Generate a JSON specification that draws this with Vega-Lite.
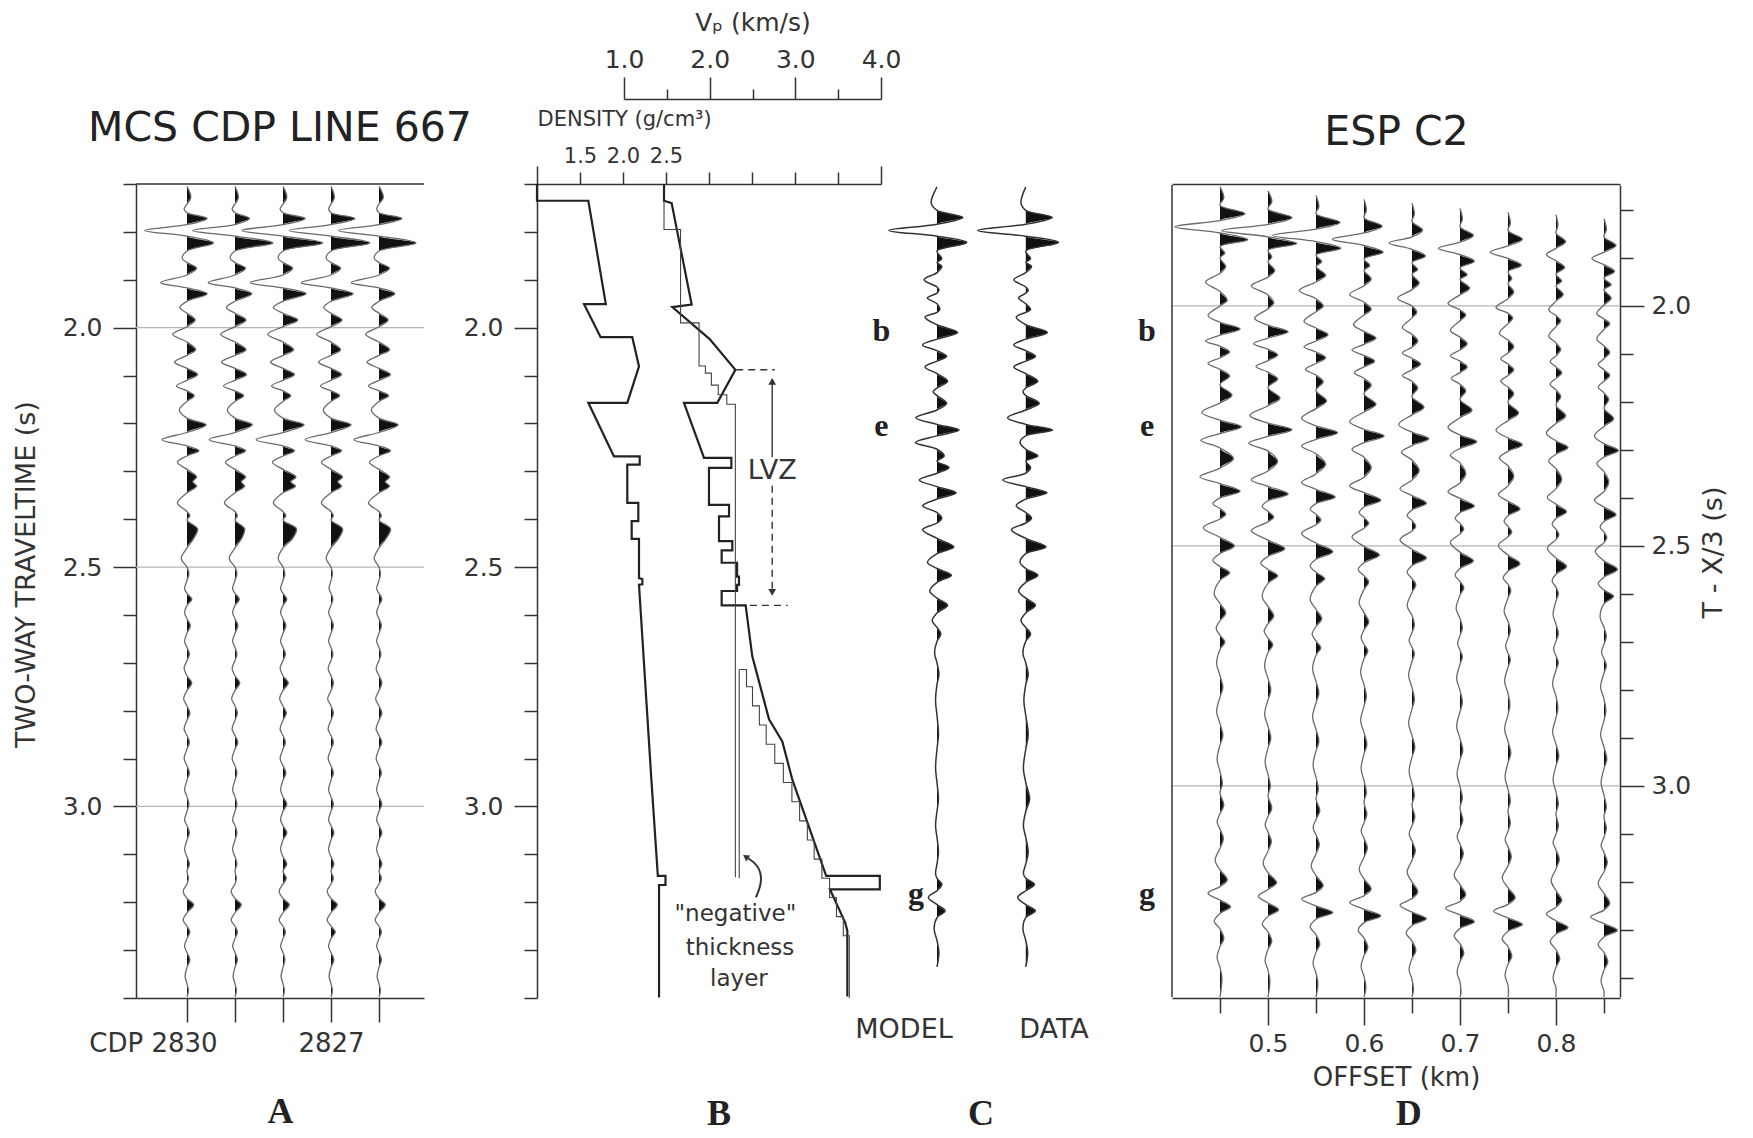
{
"$schema":"https://vega.github.io/schema/vega-lite/v6.json",
"background":"white",
"padding":{"left":12,"top":10,"right":5,"bottom":2},
"bounds":"flush",
"spacing":113,
"config":{
 "view":{"stroke":null},
 "font":"DejaVu Sans",
 "axis":{"grid":false,"domainColor":"#333","domainWidth":1.5,"tickColor":"#333","tickWidth":1.5,"labelColor":"#333","titleColor":"#333","labelFont":"DejaVu Sans","titleFont":"DejaVu Sans","titleFontWeight":"normal","labelFontSize":25,"titleFontSize":26,"labelOverlap":false,"labelFlush":false,"labelBound":false},
 "title":{"font":"DejaVu Sans","fontWeight":"normal","color":"#222"}
},
"datasets":{
"doff":[{"n":1,"k":0.45},{"n":2,"k":0.5},{"n":3,"k":0.55},{"n":4,"k":0.6},{"n":5,"k":0.65},{"n":6,"k":0.7},{"n":7,"k":0.75},{"n":8,"k":0.8},{"n":9,"k":0.85}],
"A":[
{"t":1.705,"a":[0,0,0,0,0]},{"t":1.728,"a":[0.08,0.07,0.08,0.07,0.09]},{"t":1.742,"a":[0,0,0,0,0]},{"t":1.752,"a":[-0.06,-0.06,-0.06,-0.05,-0.05]},{"t":1.76,"a":[0,0,0,0,0]},
{"t":1.772,"a":[0.42,0.3,0.46,0.5,0.48]},{"t":1.785,"a":[0,0,0,0,0]},{"t":1.797,"a":[-0.88,-0.88,-0.86,-0.86,-0.84]},{"t":1.809,"a":[0,0,0,0,0]},{"t":1.823,"a":[0.55,0.79,0.83,0.81,0.77]},
{"t":1.84,"a":[0,0,0,0,0]},{"t":1.855,"a":[-0.1,-0.1,-0.1,-0.1,-0.1]},{"t":1.864,"a":[0,0,0,0,0]},{"t":1.876,"a":[0.2,0.22,0.2,0.2,0.22]},{"t":1.89,"a":[0,0,0,0,0]},
{"t":1.906,"a":[-0.55,-0.56,-0.68,-0.62,-0.58]},{"t":1.917,"a":[0,0,0,0,0]},{"t":1.929,"a":[0.42,0.35,0.48,0.46,0.33]},{"t":1.945,"a":[0,0,0,0,0]},{"t":1.958,"a":[-0.15,-0.18,-0.2,-0.15,-0.15]},
{"t":1.97,"a":[0,0,0,0,0]},{"t":1.984,"a":[0.17,0.23,0.31,0.23,0.19]},{"t":1.998,"a":[0,0,0,0,0]},{"t":2.014,"a":[-0.3,-0.3,-0.32,-0.3,-0.28]},{"t":2.03,"a":[0,0,0,0,0]},
{"t":2.046,"a":[0.18,0.23,0.22,0.2,0.22]},{"t":2.058,"a":[0,0,0,0,0]},{"t":2.072,"a":[-0.26,-0.28,-0.26,-0.26,-0.25]},{"t":2.085,"a":[0,0,0,0,0]},{"t":2.098,"a":[0.22,0.24,0.24,0.22,0.24]},
{"t":2.11,"a":[0,0,0,0,0]},{"t":2.122,"a":[-0.22,-0.24,-0.24,-0.22,-0.22]},{"t":2.132,"a":[0,0,0,0,0]},{"t":2.142,"a":[0.15,0.18,0.16,0.18,0.2]},{"t":2.154,"a":[0,0,0,0,0]},
{"t":2.172,"a":[-0.16,-0.16,-0.18,-0.16,-0.16]},{"t":2.189,"a":[0,0,0,0,0]},{"t":2.203,"a":[0.4,0.36,0.44,0.42,0.4]},{"t":2.219,"a":[0,0,0,0,0]},{"t":2.234,"a":[-0.52,-0.54,-0.56,-0.54,-0.52]},
{"t":2.247,"a":[0,0,0,0,0]},{"t":2.257,"a":[0.25,0.22,0.24,0.22,0.24]},{"t":2.268,"a":[0,0,0,0,0]},{"t":2.281,"a":[-0.2,-0.2,-0.22,-0.2,-0.2]},{"t":2.296,"a":[0,0,0,0,0]},
{"t":2.312,"a":[0.2,0.22,0.27,0.24,0.22]},{"t":2.322,"a":[0.12,0.13,0.16,0.14,0.13]},{"t":2.331,"a":[0.2,0.2,0.26,0.22,0.22]},{"t":2.345,"a":[0,0,0,0,0]},{"t":2.366,"a":[-0.2,-0.22,-0.2,-0.2,-0.22]},
{"t":2.384,"a":[0,0,0,0,0]},{"t":2.393,"a":[0.06,0.05,0.06,0.05,0.05]},{"t":2.402,"a":[0,0,0,0,0]},{"t":2.42,"a":[0.22,0.2,0.28,0.24,0.24]},{"t":2.44,"a":[0.14,0.14,0.2,0.16,0.15]},
{"t":2.46,"a":[0,0,0,0,0]},{"t":2.482,"a":[-0.12,-0.12,-0.1,-0.1,-0.1]},{"t":2.5,"a":[0,0,0,0,0]},{"t":2.515,"a":[0.04,0.04,0.04,0.03,0.03]},{"t":2.528,"a":[0,0,0,0,0]},
{"t":2.545,"a":[-0.05,-0.05,-0.05,-0.04,-0.05]},{"t":2.555,"a":[0,0,0,0,0]},{"t":2.567,"a":[0.1,0.09,0.08,0.04,0.06]},{"t":2.58,"a":[0,0,0,0,0]},{"t":2.595,"a":[-0.05,-0.05,-0.05,-0.05,-0.05]},
{"t":2.608,"a":[0,0,0,0,0]},{"t":2.622,"a":[0.07,0.06,0.06,0.05,0.05]},{"t":2.638,"a":[0,0,0,0,0]},{"t":2.655,"a":[-0.05,-0.05,-0.05,-0.05,-0.05]},{"t":2.668,"a":[0,0,0,0,0]},
{"t":2.682,"a":[0.05,0.04,0.05,0.04,0.04]},{"t":2.695,"a":[0,0,0,0,0]},{"t":2.712,"a":[-0.06,-0.06,-0.06,-0.06,-0.06]},{"t":2.727,"a":[0,0,0,0,0]},{"t":2.742,"a":[0.1,0.1,0.11,0.05,0.06]},
{"t":2.758,"a":[0,0,0,0,0]},{"t":2.775,"a":[-0.07,-0.07,-0.07,-0.07,-0.07]},{"t":2.79,"a":[0,0,0,0,0]},{"t":2.805,"a":[0.06,0.05,0.07,0.05,0.06]},{"t":2.82,"a":[0,0,0,0,0]},
{"t":2.838,"a":[-0.06,-0.06,-0.06,-0.06,-0.06]},{"t":2.852,"a":[0,0,0,0,0]},{"t":2.866,"a":[0.05,0.06,0.05,0.05,0.06]},{"t":2.88,"a":[0,0,0,0,0]},{"t":2.9,"a":[-0.06,-0.06,-0.06,-0.06,-0.06]},
{"t":2.915,"a":[0,0,0,0,0]},{"t":2.93,"a":[0.05,0.04,0.06,0.05,0.05]},{"t":2.945,"a":[0,0,0,0,0]},{"t":2.965,"a":[-0.05,-0.05,-0.05,-0.05,-0.05]},{"t":2.98,"a":[0,0,0,0,0]},
{"t":2.995,"a":[0.04,0.04,0.08,0.05,0.06]},{"t":3.01,"a":[0,0,0,0,0]},{"t":3.028,"a":[-0.05,-0.05,-0.05,-0.05,-0.05]},{"t":3.04,"a":[0,0,0,0,0]},{"t":3.055,"a":[0.05,0.04,0.08,0.06,0.06]},
{"t":3.07,"a":[0,0,0,0,0]},{"t":3.09,"a":[-0.05,-0.05,-0.05,-0.05,-0.05]},{"t":3.105,"a":[0,0,0,0,0]},{"t":3.12,"a":[0.05,0.04,0.08,0.06,0.06]},{"t":3.135,"a":[0,0,0,0,0]},
{"t":3.15,"a":[0.03,0.03,0.07,0.05,0.05]},{"t":3.162,"a":[0,0,0,0,0]},{"t":3.177,"a":[-0.08,-0.08,-0.08,-0.08,-0.08]},{"t":3.192,"a":[0,0,0,0,0]},{"t":3.205,"a":[0.14,0.13,0.13,0.13,0.13]},
{"t":3.222,"a":[0,0,0,0,0]},{"t":3.237,"a":[-0.08,-0.08,-0.08,-0.08,-0.08]},{"t":3.25,"a":[0,0,0,0,0]},{"t":3.262,"a":[0.06,0.05,0.05,0.09,0.05]},{"t":3.276,"a":[0,0,0,0,0]},
{"t":3.292,"a":[-0.05,-0.05,-0.05,-0.05,-0.05]},{"t":3.305,"a":[0,0,0,0,0]},{"t":3.32,"a":[0.06,0.05,0.04,0.06,0.05]},{"t":3.336,"a":[0,0,0,0,0]},{"t":3.355,"a":[-0.04,-0.04,-0.04,-0.04,-0.04]},
{"t":3.37,"a":[0,0,0,0,0]},{"t":3.385,"a":[0.03,0.03,0.03,0.03,0.03]},{"t":3.398,"a":[0,0,0,0,0]}
],
"C":[
{"t":1.706,"a":[0,0],"k":[1,2.85]},{"t":1.74,"a":[-0.12,-0.1],"k":[1,2.85]},{"t":1.755,"a":[0,0],"k":[1,2.85]},{"t":1.77,"a":[0.54,0.55],"k":[1,2.85]},{"t":1.784,"a":[0,0],"k":[1,2.85]},
{"t":1.797,"a":[-1.0,-1.0],"k":[1,2.85]},{"t":1.809,"a":[0,0],"k":[1,2.85]},{"t":1.822,"a":[0.62,0.68],"k":[1,2.85]},{"t":1.84,"a":[0,0],"k":[1,2.85]},{"t":1.856,"a":[0.1,0.1],"k":[1,2.85]},
{"t":1.864,"a":[0,0],"k":[1,2.85]},{"t":1.872,"a":[0.1,0.12],"k":[1,2.85]},{"t":1.885,"a":[0,0],"k":[1,2.85]},{"t":1.9,"a":[-0.27,-0.25],"k":[1,2.85]},{"t":1.915,"a":[0,0],"k":[1,2.85]},
{"t":1.922,"a":[0.04,0.05],"k":[1,2.85]},{"t":1.928,"a":[0,0],"k":[1,2.85]},{"t":1.938,"a":[-0.2,-0.15],"k":[1,2.85]},{"t":1.95,"a":[0,0],"k":[1,2.85]},{"t":1.962,"a":[0.06,0.1],"k":[1,2.85]},
{"t":1.968,"a":[0,0],"k":[1,2.85]},{"t":1.978,"a":[-0.25,-0.2],"k":[1,2.85]},{"t":1.994,"a":[0,0],"k":[1,2.85]},{"t":2.01,"a":[0.43,0.45],"k":[1,2.85]},{"t":2.024,"a":[0,0],"k":[1,2.85]},
{"t":2.036,"a":[-0.3,-0.25],"k":[1,2.85]},{"t":2.048,"a":[0,0],"k":[1,2.85]},{"t":2.06,"a":[0.2,0.2],"k":[1,2.85]},{"t":2.07,"a":[0,0],"k":[1,2.85]},{"t":2.082,"a":[-0.25,-0.25],"k":[1,2.85]},
{"t":2.096,"a":[0,0],"k":[1,2.85]},{"t":2.112,"a":[0.22,0.25],"k":[1,2.85]},{"t":2.126,"a":[0,0],"k":[1,2.85]},{"t":2.134,"a":[-0.08,-0.06],"k":[1,2.85]},{"t":2.142,"a":[0,0],"k":[1,2.85]},
{"t":2.158,"a":[0.2,0.28],"k":[1,2.85]},{"t":2.172,"a":[0,0],"k":[1,2.85]},{"t":2.188,"a":[-0.44,-0.38],"k":[1,2.85]},{"t":2.202,"a":[0,0],"k":[1,2.85]},{"t":2.214,"a":[0.46,0.56],"k":[1,2.85]},
{"t":2.226,"a":[0,0],"k":[1,2.85]},{"t":2.24,"a":[-0.45,-0.12],"k":[1,2.85]},{"t":2.254,"a":[0,0],"k":[1,2.85]},{"t":2.268,"a":[0.15,0.25],"k":[1,2.85]},{"t":2.279,"a":[0,0],"k":[1,2.85]},
{"t":2.292,"a":[0.25,0.1],"k":[1,2.85]},{"t":2.304,"a":[0,0],"k":[1,2.85]},{"t":2.318,"a":[-0.37,-0.48],"k":[1,2.85]},{"t":2.332,"a":[0,0],"k":[1,2.85]},{"t":2.345,"a":[0.4,0.44],"k":[1,2.85]},
{"t":2.358,"a":[0,0],"k":[1,2.85]},{"t":2.372,"a":[-0.3,-0.2],"k":[1,2.85]},{"t":2.386,"a":[0,0],"k":[1,2.85]},{"t":2.398,"a":[0.1,0.12],"k":[1,2.85]},{"t":2.408,"a":[0,0],"k":[1,2.85]},
{"t":2.422,"a":[-0.3,-0.3],"k":[1,2.85]},{"t":2.44,"a":[0,0],"k":[1,2.85]},{"t":2.458,"a":[0.35,0.42],"k":[1,2.85]},{"t":2.472,"a":[0,0],"k":[1,2.85]},{"t":2.49,"a":[-0.2,-0.12],"k":[1,2.85]},
{"t":2.503,"a":[0,0],"k":[1,2.85]},{"t":2.517,"a":[0.3,0.25],"k":[1,2.85]},{"t":2.532,"a":[0,0],"k":[1,2.85]},{"t":2.55,"a":[-0.15,-0.15],"k":[1,2.85]},{"t":2.565,"a":[0,0],"k":[1,2.85]},
{"t":2.58,"a":[0.22,0.2],"k":[1,2.85]},{"t":2.596,"a":[0,0],"k":[1,2.85]},{"t":2.612,"a":[-0.1,-0.1],"k":[1,2.85]},{"t":2.626,"a":[0,0],"k":[1,2.85]},{"t":2.64,"a":[0.08,0.1],"k":[1,2.85]},
{"t":2.655,"a":[0,0],"k":[1,2.85]},{"t":2.68,"a":[-0.05,-0.06],"k":[1,2.85]},{"t":2.7,"a":[0,0],"k":[1,2.85]},{"t":2.725,"a":[0.04,0.05],"k":[1,2.85]},{"t":2.745,"a":[0,0],"k":[1,2.85]},
{"t":2.78,"a":[-0.03,-0.04],"k":[1,2.85]},{"t":2.81,"a":[0,0],"k":[1,2.85]},{"t":2.85,"a":[0.03,0.05],"k":[1,2.85]},{"t":2.88,"a":[0,0],"k":[1,2.85]},{"t":2.92,"a":[-0.03,-0.05],"k":[1,2.85]},
{"t":2.95,"a":[0,0],"k":[1,2.85]},{"t":2.985,"a":[0.03,0.08],"k":[1,2.85]},{"t":3.01,"a":[0,0],"k":[1,2.85]},{"t":3.04,"a":[-0.03,-0.05],"k":[1,2.85]},{"t":3.065,"a":[0,0],"k":[1,2.85]},
{"t":3.095,"a":[0.03,0.05],"k":[1,2.85]},{"t":3.12,"a":[0,0],"k":[1,2.85]},{"t":3.14,"a":[-0.03,-0.05],"k":[1,2.85]},{"t":3.15,"a":[0,0],"k":[1,2.85]},{"t":3.163,"a":[0.1,0.18],"k":[1,2.85]},
{"t":3.176,"a":[0,0],"k":[1,2.85]},{"t":3.19,"a":[-0.18,-0.17],"k":[1,2.85]},{"t":3.205,"a":[0,0],"k":[1,2.85]},{"t":3.218,"a":[0.17,0.2],"k":[1,2.85]},{"t":3.232,"a":[0,0],"k":[1,2.85]},
{"t":3.255,"a":[-0.06,-0.06],"k":[1,2.85]},{"t":3.28,"a":[0,0],"k":[1,2.85]},{"t":3.305,"a":[0.04,0.04],"k":[1,2.85]},{"t":3.335,"a":[0,0],"k":[1,2.85]}
],
"D":[
{"r":1,"t":[1.752,1.760,1.770,1.778,1.786,1.797,1.805,1.810,1.818],"a":[0,0,0,0,0,0,0,0,0]},
{"r":2,"t":[1.775,1.783,1.793,1.801,1.809,1.820,1.828,1.833,1.841],"a":[0.08,0.08,0.06,0.05,0.05,0.05,0.05,0.04,0.05]},
{"r":3,"t":[1.790,1.798,1.808,1.816,1.824,1.835,1.843,1.848,1.856],"a":[0,0,0,0,0,0,0,0,0]},
{"r":4,"t":[1.808,1.816,1.826,1.834,1.842,1.853,1.861,1.866,1.874],"a":[0.52,0.5,0.5,0.38,0.22,0.28,0.3,0.2,0.25]},
{"r":5,"t":[1.822,1.830,1.840,1.848,1.856,1.867,1.875,1.880,1.888],"a":[0,0,0,0,0,0,0,0,0]},
{"r":6,"t":[1.835,1.843,1.853,1.861,1.869,1.880,1.888,1.893,1.901],"a":[-0.94,-0.97,-0.9,-0.66,-0.48,-0.45,-0.37,-0.2,-0.25]},
{"r":7,"t":[1.848,1.856,1.866,1.874,1.882,1.893,1.901,1.906,1.914],"a":[0,0,0,0,0,0,0,0,0]},
{"r":8,"t":[1.862,1.870,1.880,1.888,1.896,1.907,1.915,1.920,1.928],"a":[0.58,0.6,0.52,0.4,0.28,0.3,0.28,0.18,0.22]},
{"r":9,"t":[1.876,1.884,1.894,1.902,1.910,1.921,1.929,1.934,1.942],"a":[0,0,0,0,0,0,0,0,0]},
{"r":10,"t":[1.890,1.898,1.908,1.916,1.924,1.935,1.943,1.948,1.956],"a":[0.1,0.08,0.12,0.12,0.12,0.15,0.08,0.12,0.15]},
{"r":11,"t":[1.900,1.908,1.918,1.926,1.934,1.945,1.953,1.958,1.966],"a":[0,0,0,0,0,0,0,0,0]},
{"r":12,"t":[1.918,1.926,1.936,1.944,1.952,1.963,1.971,1.976,1.984],"a":[0.12,0.14,0.2,0.15,0.15,0.2,0.12,0.15,0.15]},
{"r":13,"t":[1.932,1.940,1.950,1.958,1.966,1.977,1.985,1.990,1.998],"a":[0,0,0,0,0,0,0,0,0]},
{"r":14,"t":[1.950,1.958,1.968,1.976,1.984,1.995,2.003,2.008,2.016],"a":[-0.3,-0.35,-0.35,-0.3,-0.3,-0.25,-0.25,-0.15,-0.15]},
{"r":15,"t":[1.970,1.977,1.985,1.992,2.000,2.008,2.015,2.020,2.027],"a":[0,0,0,0,0,0,0,0,0]},
{"r":16,"t":[1.988,1.994,2.000,2.007,2.013,2.019,2.025,2.031,2.037],"a":[0.15,0.12,0.15,0.15,0.1,0.12,0.1,0.1,0.12]},
{"r":17,"t":[2.000,2.006,2.012,2.019,2.025,2.031,2.037,2.043,2.049],"a":[0,0,0,0,0,0,0,0,0]},
{"r":18,"t":[2.020,2.026,2.032,2.039,2.045,2.051,2.057,2.063,2.069],"a":[-0.25,-0.28,-0.25,-0.22,-0.2,-0.2,-0.18,-0.15,-0.15]},
{"r":19,"t":[2.034,2.040,2.046,2.053,2.059,2.065,2.071,2.077,2.083],"a":[0,0,0,0,0,0,0,0,0]},
{"r":20,"t":[2.048,2.054,2.060,2.067,2.073,2.079,2.085,2.091,2.097],"a":[0.42,0.42,0.25,0.25,0.12,0.15,0.12,0.1,0.12]},
{"r":21,"t":[2.061,2.067,2.073,2.080,2.086,2.092,2.098,2.104,2.110],"a":[0,0,0,0,0,0,0,0,0]},
{"r":22,"t":[2.073,2.079,2.085,2.092,2.098,2.104,2.110,2.116,2.122],"a":[-0.3,-0.3,-0.25,-0.25,-0.2,-0.2,-0.15,-0.12,-0.12]},
{"r":23,"t":[2.084,2.090,2.096,2.103,2.109,2.115,2.121,2.127,2.133],"a":[0,0,0,0,0,0,0,0,0]},
{"r":24,"t":[2.096,2.102,2.108,2.115,2.121,2.127,2.133,2.139,2.145],"a":[0.2,0.2,0.2,0.22,0.18,0.15,0.12,0.12,0.12]},
{"r":25,"t":[2.108,2.114,2.120,2.127,2.133,2.139,2.145,2.151,2.157],"a":[0,0,0,0,0,0,0,0,0]},
{"r":26,"t":[2.120,2.126,2.132,2.139,2.145,2.151,2.157,2.163,2.169],"a":[-0.25,-0.25,-0.22,-0.2,-0.2,-0.18,-0.15,-0.12,-0.12]},
{"r":27,"t":[2.132,2.138,2.144,2.151,2.157,2.163,2.169,2.175,2.181],"a":[0,0,0,0,0,0,0,0,0]},
{"r":28,"t":[2.146,2.152,2.158,2.165,2.171,2.177,2.183,2.189,2.195],"a":[0.2,0.2,0.15,0.15,0.12,0.12,0.12,0.1,0.1]},
{"r":29,"t":[2.164,2.170,2.176,2.183,2.189,2.195,2.201,2.207,2.213],"a":[0,0,0,0,0,0,0,0,0]},
{"r":30,"t":[2.186,2.192,2.198,2.205,2.211,2.217,2.223,2.229,2.235],"a":[0.25,0.25,0.22,0.25,0.25,0.25,0.22,0.2,0.2]},
{"r":31,"t":[2.202,2.208,2.214,2.221,2.227,2.233,2.239,2.245,2.251],"a":[0,0,0,0,0,0,0,0,0]},
{"r":32,"t":[2.222,2.228,2.234,2.241,2.247,2.253,2.259,2.265,2.271],"a":[-0.38,-0.38,-0.3,-0.3,-0.28,-0.25,-0.25,-0.2,-0.2]},
{"r":33,"t":[2.238,2.244,2.250,2.257,2.263,2.269,2.275,2.281,2.287],"a":[0,0,0,0,0,0,0,0,0]},
{"r":34,"t":[2.252,2.258,2.264,2.271,2.277,2.283,2.289,2.295,2.301],"a":[0.45,0.5,0.45,0.42,0.35,0.35,0.3,0.25,0.3]},
{"r":35,"t":[2.266,2.272,2.278,2.285,2.291,2.297,2.303,2.309,2.315],"a":[0,0,0,0,0,0,0,0,0]},
{"r":36,"t":[2.280,2.286,2.292,2.299,2.305,2.311,2.317,2.323,2.329],"a":[-0.4,-0.4,-0.3,-0.25,-0.22,-0.2,-0.18,-0.15,-0.15]},
{"r":37,"t":[2.296,2.302,2.308,2.315,2.321,2.327,2.333,2.339,2.345],"a":[0,0,0,0,0,0,0,0,0]},
{"r":38,"t":[2.318,2.324,2.330,2.337,2.343,2.349,2.355,2.361,2.367],"a":[0.28,0.2,0.2,0.15,0.15,0.12,0.12,0.12,0.1]},
{"r":39,"t":[2.338,2.344,2.350,2.357,2.363,2.369,2.375,2.381,2.387],"a":[0,0,0,0,0,0,0,0,0]},
{"r":40,"t":[2.356,2.362,2.368,2.375,2.381,2.387,2.393,2.399,2.405],"a":[-0.42,-0.35,-0.3,-0.3,-0.25,-0.25,-0.2,-0.18,-0.2]},
{"r":41,"t":[2.370,2.376,2.382,2.389,2.395,2.401,2.407,2.413,2.419],"a":[0,0,0,0,0,0,0,0,0]},
{"r":42,"t":[2.386,2.392,2.398,2.405,2.411,2.417,2.423,2.429,2.435],"a":[0.42,0.42,0.4,0.35,0.3,0.3,0.25,0.22,0.25]},
{"r":43,"t":[2.400,2.406,2.412,2.419,2.425,2.431,2.437,2.443,2.449],"a":[0,0,0,0,0,0,0,0,0]},
{"r":44,"t":[2.412,2.418,2.424,2.431,2.437,2.443,2.449,2.455,2.461],"a":[-0.15,-0.12,-0.12,-0.1,-0.1,-0.1,-0.08,-0.08,-0.08]},
{"r":45,"t":[2.422,2.428,2.434,2.441,2.447,2.453,2.459,2.465,2.471],"a":[0,0,0,0,0,0,0,0,0]},
{"r":46,"t":[2.434,2.440,2.446,2.453,2.459,2.465,2.471,2.477,2.483],"a":[0.12,0.12,0.1,0.1,0.08,0.08,0.08,0.06,0.06]},
{"r":47,"t":[2.444,2.450,2.456,2.463,2.469,2.475,2.481,2.487,2.493],"a":[0,0,0,0,0,0,0,0,0]},
{"r":48,"t":[2.462,2.468,2.474,2.481,2.487,2.493,2.499,2.505,2.511],"a":[-0.35,-0.35,-0.3,-0.25,-0.25,-0.2,-0.2,-0.18,-0.18]},
{"r":49,"t":[2.482,2.488,2.494,2.501,2.507,2.513,2.519,2.525,2.531],"a":[0,0,0,0,0,0,0,0,0]},
{"r":50,"t":[2.500,2.506,2.512,2.519,2.525,2.531,2.537,2.543,2.549],"a":[0.3,0.35,0.35,0.32,0.3,0.28,0.25,0.22,0.28]},
{"r":51,"t":[2.516,2.522,2.528,2.535,2.541,2.547,2.553,2.559,2.565],"a":[0,0,0,0,0,0,0,0,0]},
{"r":52,"t":[2.530,2.536,2.542,2.549,2.555,2.561,2.567,2.573,2.579],"a":[-0.15,-0.15,-0.12,-0.12,-0.1,-0.1,-0.1,-0.08,-0.12]},
{"r":53,"t":[2.543,2.549,2.555,2.562,2.568,2.574,2.580,2.586,2.592],"a":[0,0,0,0,0,0,0,0,0]},
{"r":54,"t":[2.556,2.562,2.568,2.575,2.581,2.587,2.593,2.599,2.605],"a":[0.2,0.2,0.18,0.1,0.08,0.08,0.06,0.05,0.2]},
{"r":55,"t":[2.572,2.578,2.584,2.591,2.597,2.603,2.609,2.615,2.621],"a":[0,0,0,0,0,0,0,0,0]},
{"r":56,"t":[2.600,2.606,2.612,2.619,2.625,2.631,2.637,2.643,2.649],"a":[-0.12,-0.12,-0.12,-0.1,-0.1,-0.08,-0.08,-0.06,-0.08]},
{"r":57,"t":[2.620,2.626,2.632,2.639,2.645,2.651,2.657,2.663,2.669],"a":[0,0,0,0,0,0,0,0,0]},
{"r":58,"t":[2.640,2.646,2.652,2.659,2.665,2.671,2.677,2.683,2.689],"a":[0.12,0.12,0.12,0.1,0.05,0.05,0.05,0.05,0.05]},
{"r":59,"t":[2.656,2.662,2.668,2.675,2.681,2.687,2.693,2.699,2.705],"a":[0,0,0,0,0,0,0,0,0]},
{"r":60,"t":[2.672,2.678,2.684,2.691,2.697,2.703,2.709,2.715,2.721],"a":[-0.08,-0.08,-0.08,-0.06,-0.06,-0.05,-0.05,-0.05,-0.05]},
{"r":61,"t":[2.686,2.692,2.698,2.705,2.711,2.717,2.723,2.729,2.735],"a":[0,0,0,0,0,0,0,0,0]},
{"r":62,"t":[2.700,2.706,2.712,2.719,2.725,2.731,2.737,2.743,2.749],"a":[0.1,0.1,0.1,0.08,0.05,0.05,0.05,0.05,0.05]},
{"r":63,"t":[2.716,2.722,2.728,2.735,2.741,2.747,2.753,2.759,2.765],"a":[0,0,0,0,0,0,0,0,0]},
{"r":64,"t":[2.745,2.751,2.757,2.764,2.770,2.776,2.782,2.788,2.794],"a":[-0.07,-0.07,-0.07,-0.07,-0.07,-0.07,-0.07,-0.07,-0.07]},
{"r":65,"t":[2.770,2.776,2.782,2.789,2.795,2.801,2.807,2.813,2.819],"a":[0,0,0,0,0,0,0,0,0]},
{"r":66,"t":[2.795,2.801,2.807,2.814,2.820,2.826,2.832,2.838,2.844],"a":[0.06,0.06,0.06,0.05,0.05,0.05,0.04,0.04,0.04]},
{"r":67,"t":[2.815,2.821,2.827,2.834,2.840,2.846,2.852,2.858,2.864],"a":[0,0,0,0,0,0,0,0,0]},
{"r":68,"t":[2.845,2.851,2.857,2.864,2.870,2.876,2.882,2.888,2.894],"a":[-0.07,-0.07,-0.07,-0.07,-0.07,-0.07,-0.07,-0.07,-0.07]},
{"r":69,"t":[2.870,2.876,2.882,2.889,2.895,2.901,2.907,2.913,2.919],"a":[0,0,0,0,0,0,0,0,0]},
{"r":70,"t":[2.895,2.901,2.907,2.914,2.920,2.926,2.932,2.938,2.944],"a":[0.06,0.06,0.06,0.06,0.06,0.06,0.06,0.06,0.06]},
{"r":71,"t":[2.915,2.921,2.927,2.934,2.940,2.946,2.952,2.958,2.964],"a":[0,0,0,0,0,0,0,0,0]},
{"r":72,"t":[2.945,2.951,2.957,2.964,2.970,2.976,2.982,2.988,2.994],"a":[-0.06,-0.06,-0.06,-0.06,-0.06,-0.06,-0.06,-0.06,-0.06]},
{"r":73,"t":[2.970,2.976,2.982,2.989,2.995,3.001,3.007,3.013,3.019],"a":[0,0,0,0,0,0,0,0,0]},
{"r":74,"t":[2.995,3.001,3.007,3.014,3.020,3.026,3.032,3.038,3.044],"a":[0.05,0.05,0.05,0.05,0.05,0.05,0.05,0.05,0.05]},
{"r":75,"t":[3.015,3.021,3.027,3.034,3.040,3.046,3.052,3.058,3.064],"a":[0,0,0,0,0,0,0,0,0]},
{"r":76,"t":[3.040,3.046,3.052,3.059,3.065,3.071,3.077,3.083,3.089],"a":[0.08,0.08,0.08,0.06,0.06,0.06,0.05,0.05,0.05]},
{"r":77,"t":[3.058,3.064,3.070,3.077,3.083,3.089,3.095,3.101,3.107],"a":[0,0,0,0,0,0,0,0,0]},
{"r":78,"t":[3.075,3.081,3.087,3.094,3.100,3.106,3.112,3.118,3.124],"a":[-0.06,-0.06,-0.06,-0.06,-0.06,-0.06,-0.06,-0.06,-0.06]},
{"r":79,"t":[3.090,3.096,3.102,3.109,3.115,3.121,3.127,3.133,3.139],"a":[0,0,0,0,0,0,0,0,0]},
{"r":80,"t":[3.110,3.116,3.122,3.129,3.135,3.141,3.147,3.153,3.159],"a":[0.07,0.07,0.07,0.07,0.07,0.07,0.07,0.07,0.07]},
{"r":81,"t":[3.130,3.136,3.142,3.149,3.155,3.161,3.167,3.173,3.179],"a":[0,0,0,0,0,0,0,0,0]},
{"r":82,"t":[3.155,3.161,3.167,3.174,3.180,3.186,3.192,3.198,3.204],"a":[-0.1,-0.1,-0.1,-0.1,-0.1,-0.12,-0.12,-0.1,-0.12]},
{"r":83,"t":[3.175,3.181,3.187,3.194,3.200,3.206,3.212,3.218,3.224],"a":[0,0,0,0,0,0,0,0,0]},
{"r":84,"t":[3.196,3.202,3.208,3.215,3.221,3.227,3.233,3.239,3.245],"a":[0.15,0.18,0.15,0.15,0.12,0.12,0.15,0.12,0.12]},
{"r":85,"t":[3.210,3.216,3.222,3.229,3.235,3.241,3.247,3.253,3.259],"a":[0,0,0,0,0,0,0,0,0]},
{"r":86,"t":[3.224,3.230,3.236,3.243,3.249,3.255,3.261,3.267,3.273],"a":[-0.25,-0.2,-0.3,-0.3,-0.25,-0.3,-0.3,-0.2,-0.28]},
{"r":87,"t":[3.238,3.244,3.250,3.257,3.263,3.269,3.275,3.281,3.287],"a":[0,0,0,0,0,0,0,0,0]},
{"r":88,"t":[3.252,3.258,3.264,3.271,3.277,3.283,3.289,3.295,3.301],"a":[0.22,0.22,0.35,0.35,0.3,0.3,0.3,0.25,0.28]},
{"r":89,"t":[3.266,3.272,3.278,3.285,3.291,3.297,3.303,3.309,3.315],"a":[0,0,0,0,0,0,0,0,0]},
{"r":90,"t":[3.282,3.288,3.294,3.301,3.307,3.313,3.319,3.325,3.331],"a":[-0.12,-0.12,-0.12,-0.12,-0.12,-0.12,-0.12,-0.12,-0.12]},
{"r":91,"t":[3.298,3.304,3.310,3.317,3.323,3.329,3.335,3.341,3.347],"a":[0,0,0,0,0,0,0,0,0]},
{"r":92,"t":[3.318,3.324,3.330,3.337,3.343,3.349,3.355,3.361,3.367],"a":[0.08,0.08,0.08,0.08,0.08,0.08,0.08,0.08,0.08]},
{"r":93,"t":[3.335,3.341,3.347,3.354,3.360,3.366,3.372,3.378,3.384],"a":[0,0,0,0,0,0,0,0,0]},
{"r":94,"t":[3.358,3.364,3.370,3.377,3.383,3.389,3.395,3.401,3.407],"a":[-0.06,-0.06,-0.06,-0.06,-0.06,-0.06,-0.06,-0.06,-0.06]},
{"r":95,"t":[3.378,3.384,3.390,3.397,3.403,3.409,3.415,3.421,3.427],"a":[0,0,0,0,0,0,0,0,0]},
{"r":96,"t":[3.400,3.406,3.412,3.419,3.425,3.431,3.434,3.436,3.438],"a":[0.04,0.04,0.04,0.04,0.03,0.02,0.01,0,0]},
{"r":97,"t":[3.44,3.44,3.44,3.44,3.44,3.44,3.44,3.44,3.44],"a":[0,0,0,0,0,0,0,0,0]}
],
"dens":[{"d":1.0,"t":1.7},{"d":1.0,"t":1.735},{"d":1.597,"t":1.735},{"d":1.8,"t":1.951},{"d":1.547,"t":1.951},{"d":1.74,"t":2.02},{"d":2.108,"t":2.02},{"d":2.186,"t":2.081},{"d":2.05,"t":2.157},{"d":1.597,"t":2.157},{"d":1.895,"t":2.269},{"d":2.194,"t":2.269},{"d":2.194,"t":2.286},{"d":2.05,"t":2.286},{"d":2.05,"t":2.366},{"d":2.178,"t":2.366},{"d":2.178,"t":2.404},{"d":2.101,"t":2.404},{"d":2.101,"t":2.441},{"d":2.186,"t":2.441},{"d":2.186,"t":2.523},{"d":2.225,"t":2.525},{"d":2.225,"t":2.536},{"d":2.186,"t":2.537},{"d":2.33,"t":2.944},{"d":2.405,"t":3.145},{"d":2.494,"t":3.145},{"d":2.494,"t":3.164},{"d":2.419,"t":3.164},{"d":2.419,"t":3.399}],
"vp":[{"v":1.467,"t":1.7},{"v":1.467,"t":1.735},{"v":1.556,"t":1.74},{"v":1.79,"t":1.952},{"v":1.564,"t":1.957},{"v":2.0,"t":2.024},{"v":2.3,"t":2.088},{"v":2.089,"t":2.157},{"v":1.7,"t":2.157},{"v":1.934,"t":2.272},{"v":2.253,"t":2.272},{"v":2.253,"t":2.293},{"v":1.992,"t":2.293},{"v":1.992,"t":2.37},{"v":2.226,"t":2.37},{"v":2.226,"t":2.394},{"v":2.109,"t":2.394},{"v":2.109,"t":2.446},{"v":2.264,"t":2.446},{"v":2.264,"t":2.465},{"v":2.14,"t":2.465},{"v":2.14,"t":2.491},{"v":2.32,"t":2.491},{"v":2.32,"t":2.52},{"v":2.342,"t":2.52},{"v":2.342,"t":2.537},{"v":2.32,"t":2.537},{"v":2.32,"t":2.55},{"v":2.14,"t":2.55},{"v":2.14,"t":2.58},{"v":2.42,"t":2.58},{"v":2.497,"t":2.686},{"v":2.693,"t":2.818},{"v":2.848,"t":2.864},{"v":2.965,"t":2.944},{"v":3.36,"t":3.145},{"v":3.986,"t":3.145},{"v":3.986,"t":3.173},{"v":3.404,"t":3.173},{"v":3.583,"t":3.243},{"v":3.607,"t":3.26},{"v":3.607,"t":3.397}],
"vpthin":[
{"s":1,"v":1.467,"t":1.735},{"s":1,"v":1.467,"t":1.795},{"s":1,"v":1.66,"t":1.795},{"s":1,"v":1.66,"t":1.99},{"s":1,"v":1.876,"t":1.99},{"s":1,"v":1.876,"t":2.08},{"s":1,"v":1.95,"t":2.08},{"s":1,"v":1.95,"t":2.095},{"s":1,"v":2.02,"t":2.095},{"s":1,"v":2.02,"t":2.12},{"s":1,"v":2.1,"t":2.12},{"s":1,"v":2.1,"t":2.14},{"s":1,"v":2.2,"t":2.14},{"s":1,"v":2.2,"t":2.16},{"s":1,"v":2.3,"t":2.16},{"s":1,"v":2.3,"t":3.148},
{"s":2,"v":2.345,"t":2.714},{"s":2,"v":2.345,"t":3.15},
{"s":3,"v":2.345,"t":2.714},{"s":3,"v":2.43,"t":2.714},{"s":3,"v":2.43,"t":2.75},{"s":3,"v":2.5,"t":2.75},{"s":3,"v":2.5,"t":2.79},{"s":3,"v":2.58,"t":2.79},{"s":3,"v":2.58,"t":2.83},{"s":3,"v":2.66,"t":2.83},{"s":3,"v":2.66,"t":2.87},{"s":3,"v":2.76,"t":2.87},{"s":3,"v":2.76,"t":2.91},{"s":3,"v":2.86,"t":2.91},{"s":3,"v":2.86,"t":2.95},{"s":3,"v":2.96,"t":2.95},{"s":3,"v":2.96,"t":2.99},{"s":3,"v":3.05,"t":2.99},{"s":3,"v":3.05,"t":3.03},{"s":3,"v":3.14,"t":3.03},{"s":3,"v":3.14,"t":3.07},{"s":3,"v":3.22,"t":3.07},{"s":3,"v":3.22,"t":3.11},{"s":3,"v":3.31,"t":3.11},{"s":3,"v":3.31,"t":3.15},{"s":3,"v":3.4,"t":3.15},{"s":3,"v":3.4,"t":3.19},{"s":3,"v":3.48,"t":3.19},{"s":3,"v":3.48,"t":3.23},{"s":3,"v":3.56,"t":3.23},{"s":3,"v":3.56,"t":3.27},{"s":3,"v":3.63,"t":3.27},{"s":3,"v":3.63,"t":3.4}
]
},
"hconcat":[
{
 "width":288,"height":814,
 "title":{"text":"MCS CDP LINE 667","fontSize":41,"offset":22,"anchor":"middle"},
 "resolve":{"scale":{"x":"independent","y":"independent"},"axis":{"x":"independent","y":"independent"}},
 "layer":[
  {"data":{"values":[{"t":2.0},{"t":2.5},{"t":3.0}]},"mark":{"type":"rule","stroke":"#b5b5b5","strokeWidth":1.2},
   "encoding":{"y":{"field":"t","type":"quantitative","scale":{"domain":[1.7,3.4],"reverse":true,"nice":false,"zero":false},"axis":null}}},
  {"data":{"values":[{"t":1.7}]},"mark":{"type":"rule","stroke":"#333","strokeWidth":1.5},
   "encoding":{"y":{"field":"t","type":"quantitative","scale":{"domain":[1.7,3.4],"reverse":true,"nice":false,"zero":false},"axis":null}}},
  {"data":{"name":"A"},
   "transform":[{"flatten":["a"]},{"window":[{"op":"row_number","as":"k"}],"groupby":["t"]},{"calculate":"datum.k+datum.a","as":"xx"},{"filter":"datum.a>=0"}],
   "mark":{"type":"area","orient":"horizontal","interpolate":"monotone","fill":"#111"},
   "encoding":{
    "x":{"field":"xx","type":"quantitative","scale":{"domain":[-0.0625,5.9375],"nice":false,"zero":false},"axis":null},
    "x2":{"field":"k"},
    "y":{"field":"t","type":"quantitative","scale":{"domain":[1.7,3.4],"reverse":true,"nice":false,"zero":false},"axis":null},
    "detail":{"field":"k","type":"nominal"}}},
  {"data":{"name":"A"},
   "transform":[{"flatten":["a"]},{"window":[{"op":"row_number","as":"k"}],"groupby":["t"]},{"calculate":"datum.k+datum.a","as":"xx"}],
   "mark":{"type":"line","interpolate":"catmull-rom","stroke":"#6a6a6a","strokeWidth":1.3},
   "encoding":{
    "x":{"field":"xx","type":"quantitative","scale":{"domain":[-0.0625,5.9375],"nice":false,"zero":false},
      "axis":{"orient":"bottom","title":"A","titleFont":"Liberation Serif","titleFontWeight":"bold","titleFontSize":36,"titleColor":"#222","titlePadding":38,"values":[1,2,3,4,5],"tickSize":24,"labelExpr":"datum.value==1 ? 'CDP 2830' : (datum.value==4 ? '2827' : '')","labelOffset":{"condition":{"test":"datum.value==1","value":-34},"value":0},"labelPadding":8,"labelFontSize":26}},
    "y":{"field":"t","type":"quantitative","scale":{"domain":[1.7,3.4],"reverse":true,"nice":false,"zero":false},
      "axis":{"title":"TWO-WAY TRAVELTIME (s)","titleFontSize":27,"titlePadding":22,"titleY":390,"values":[1.7,1.8,1.9,2,2.1,2.2,2.3,2.4,2.5,2.6,2.7,2.8,2.9,3,3.1,3.2,3.3,3.4],"labelExpr":"abs(datum.value*2-round(datum.value*2))<0.001 ? format(datum.value,'.1f') : ''","tickSize":{"condition":{"test":"abs(datum.value*2-round(datum.value*2))<0.001","value":23},"value":13},"labelPadding":11}},
    "detail":{"field":"k","type":"nominal"},
    "order":{"field":"t","type":"quantitative"}}}
 ]
},
{
 "width":1083,"height":814,
 "resolve":{"scale":{"x":"independent","y":"independent"},"axis":{"x":"independent","y":"independent"}},
 "layer":[
  {"data":{"name":"dens"},"mark":{"type":"line","stroke":"#222","strokeWidth":2.2},
   "encoding":{
    "x":{"field":"d","type":"quantitative","scale":{"domain":[1,5],"range":[0,344],"nice":false,"zero":false},
      "axis":{"orient":"top","title":"DENSITY (g/cm³)","titleFontSize":21,"titleAnchor":"start","titleAlign":"left","titlePadding":10,"values":[1,1.5,2,2.5,3,3.5,4,4.5,5],"labelExpr":"datum.value>=1.5 && datum.value<=2.5 ? format(datum.value,'.1f') : ''","labelFontSize":21,"tickSize":{"condition":{"test":"datum.value==1 || datum.value==5","value":18},"value":12},"labelPadding":6}},
    "y":{"field":"t","type":"quantitative","scale":{"domain":[1.7,3.4],"reverse":true,"nice":false,"zero":false},
      "axis":{"title":null,"values":[1.7,1.8,1.9,2,2.1,2.2,2.3,2.4,2.5,2.6,2.7,2.8,2.9,3,3.1,3.2,3.3,3.4],"labelExpr":"abs(datum.value*2-round(datum.value*2))<0.001 ? format(datum.value,'.1f') : ''","tickSize":{"condition":{"test":"abs(datum.value*2-round(datum.value*2))<0.001","value":23},"value":13},"labelPadding":11}},
    "order":{"value":null}}},
  {"data":{"name":"vp"},"mark":{"type":"line","stroke":"#222","strokeWidth":2.2},
   "encoding":{
    "x":{"field":"v","type":"quantitative","scale":{"domain":[1,4],"range":[87,344],"nice":false,"zero":false},
      "axis":{"orient":"top","offset":85,"title":"Vₚ (km/s)","titleFontSize":25,"titlePadding":12,"values":[1,1.5,2,2.5,3,3.5,4],"labelExpr":"datum.value%1==0 ? format(datum.value,'.1f') : ''","tickSize":{"condition":{"test":"datum.value%1==0","value":22},"value":10},"labelPadding":5}},
    "y":{"field":"t","type":"quantitative","scale":{"domain":[1.7,3.4],"reverse":true,"nice":false,"zero":false},"axis":null},
    "order":{"value":null}}},
  {"data":{"name":"vpthin"},"mark":{"type":"line","stroke":"#444","strokeWidth":1.1},
   "encoding":{
    "x":{"field":"v","type":"quantitative","scale":{"domain":[1,4],"range":[87,344],"nice":false,"zero":false},"axis":null},
    "y":{"field":"t","type":"quantitative","scale":{"domain":[1.7,3.4],"reverse":true,"nice":false,"zero":false},"axis":null},
    "detail":{"field":"s","type":"nominal"},
    "order":{"value":null}}},
  {"data":{"values":[{"v":2.31,"v2":2.76,"t":2.088},{"v":2.47,"v2":2.91,"t":2.58}]},"mark":{"type":"rule","stroke":"#333","strokeWidth":1.4,"strokeDash":[7,5]},
   "encoding":{
    "x":{"field":"v","type":"quantitative","scale":{"domain":[1,4],"range":[87,344],"nice":false,"zero":false},"axis":null},
    "x2":{"field":"v2"},
    "y":{"field":"t","type":"quantitative","scale":{"domain":[1.7,3.4],"reverse":true,"nice":false,"zero":false},"axis":null}}},
  {"data":{"values":[{"v":2.73,"t1":2.108,"t2":2.27}]},"mark":{"type":"rule","stroke":"#333","strokeWidth":1.4},
   "encoding":{
    "x":{"field":"v","type":"quantitative","scale":{"domain":[1,4],"range":[87,344],"nice":false,"zero":false},"axis":null},
    "y":{"field":"t1","type":"quantitative","scale":{"domain":[1.7,3.4],"reverse":true,"nice":false,"zero":false},"axis":null},
    "y2":{"field":"t2"}}},
  {"data":{"values":[{"v":2.73,"t1":2.33,"t2":2.555}]},"mark":{"type":"rule","stroke":"#333","strokeWidth":1.4,"strokeDash":[7,5]},
   "encoding":{
    "x":{"field":"v","type":"quantitative","scale":{"domain":[1,4],"range":[87,344],"nice":false,"zero":false},"axis":null},
    "y":{"field":"t1","type":"quantitative","scale":{"domain":[1.7,3.4],"reverse":true,"nice":false,"zero":false},"axis":null},
    "y2":{"field":"t2"}}},
  {"data":{"values":[{"v":2.73,"t":2.112,"dir":"up"},{"v":2.73,"t":2.553,"dir":"down"}]},"mark":{"type":"point","filled":true,"color":"#333","size":60,"opacity":1},
   "encoding":{
    "x":{"field":"v","type":"quantitative","scale":{"domain":[1,4],"range":[87,344],"nice":false,"zero":false},"axis":null},
    "y":{"field":"t","type":"quantitative","scale":{"domain":[1.7,3.4],"reverse":true,"nice":false,"zero":false},"axis":null},
    "shape":{"field":"dir","type":"nominal","scale":{"domain":["up","down"],"range":["triangle-up","triangle-down"]},"legend":null}}},
  {"data":{"values":[{"v":2.54,"t":3.19},{"v":2.62,"t":3.155},{"v":2.57,"t":3.122},{"v":2.43,"t":3.106}]},"mark":{"type":"line","interpolate":"basis","stroke":"#333","strokeWidth":2},
   "encoding":{
    "x":{"field":"v","type":"quantitative","scale":{"domain":[1,4],"range":[87,344],"nice":false,"zero":false},"axis":null},
    "y":{"field":"t","type":"quantitative","scale":{"domain":[1.7,3.4],"reverse":true,"nice":false,"zero":false},"axis":null},
    "order":{"value":null}}},
  {"data":{"values":[{"v":2.42,"t":3.105}]},"mark":{"type":"point","shape":"triangle-up","angle":-56,"filled":true,"color":"#333","size":50,"opacity":1},
   "encoding":{
    "x":{"field":"v","type":"quantitative","scale":{"domain":[1,4],"range":[87,344],"nice":false,"zero":false},"axis":null},
    "y":{"field":"t","type":"quantitative","scale":{"domain":[1.7,3.4],"reverse":true,"nice":false,"zero":false},"axis":null}}},
  {"data":{"values":[{"lab":"LVZ","v":2.73,"t":2.3}]},"mark":{"type":"text","fontSize":27,"color":"#333","baseline":"middle","align":"center"},
   "encoding":{
    "x":{"field":"v","type":"quantitative","scale":{"domain":[1,4],"range":[87,344],"nice":false,"zero":false},"axis":null},
    "y":{"field":"t","type":"quantitative","scale":{"domain":[1.7,3.4],"reverse":true,"nice":false,"zero":false},"axis":null},
    "text":{"field":"lab"}}},
  {"data":{"values":[{"lab":"\"negative\"","v":2.3,"t":3.225},{"lab":"thickness","v":2.354,"t":3.296},{"lab":"layer","v":2.342,"t":3.361}]},"mark":{"type":"text","fontSize":23,"color":"#333","baseline":"middle","align":"center"},
   "encoding":{
    "x":{"field":"v","type":"quantitative","scale":{"domain":[1,4],"range":[87,344],"nice":false,"zero":false},"axis":null},
    "y":{"field":"t","type":"quantitative","scale":{"domain":[1.7,3.4],"reverse":true,"nice":false,"zero":false},"axis":null},
    "text":{"field":"lab"}}},
  {"data":{"name":"C"},
   "transform":[{"flatten":["a","k"]},{"calculate":"datum.k+datum.a","as":"xx"},{"filter":"datum.a>=0"}],
   "mark":{"type":"area","orient":"horizontal","interpolate":"monotone","fill":"#111"},
   "encoding":{
    "x":{"field":"xx","type":"quantitative","scale":{"domain":[-0.1667,5.896],"range":[344,635],"nice":false,"zero":false},"axis":null},
    "x2":{"field":"k"},
    "y":{"field":"t","type":"quantitative","scale":{"domain":[1.7,3.4],"reverse":true,"nice":false,"zero":false},"axis":null},
    "detail":{"field":"k","type":"nominal"}}},
  {"data":{"name":"C"},
   "transform":[{"flatten":["a","k"]},{"calculate":"datum.k+datum.a","as":"xx"}],
   "mark":{"type":"line","interpolate":"catmull-rom","stroke":"#333","strokeWidth":1.5},
   "encoding":{
    "x":{"field":"xx","type":"quantitative","scale":{"domain":[-0.1667,5.896],"range":[344,635],"nice":false,"zero":false},"axis":null},
    "y":{"field":"t","type":"quantitative","scale":{"domain":[1.7,3.4],"reverse":true,"nice":false,"zero":false},"axis":null},
    "detail":{"field":"k","type":"nominal"},
    "order":{"field":"t","type":"quantitative"}}},
  {"data":{"values":[{"lab":"b","u":-0.16,"t":2.008},{"lab":"e","u":-0.16,"t":2.205},{"lab":"g","u":0.562,"t":3.182},{"lab":"b","u":5.375,"t":2.008},{"lab":"e","u":5.375,"t":2.205},{"lab":"g","u":5.375,"t":3.182}]},
   "mark":{"type":"text","font":"Liberation Serif","fontWeight":"bold","fontSize":32,"color":"#222","baseline":"middle","align":"center"},
   "encoding":{
    "x":{"field":"u","type":"quantitative","scale":{"domain":[-0.1667,5.896],"range":[344,635],"nice":false,"zero":false},"axis":null},
    "y":{"field":"t","type":"quantitative","scale":{"domain":[1.7,3.4],"reverse":true,"nice":false,"zero":false},"axis":null},
    "text":{"field":"lab"}}},
  {"data":{"values":[{"lab":"MODEL","u":0.313,"t":3.466},{"lab":"DATA","u":3.437,"t":3.466}]},
   "mark":{"type":"text","fontSize":27,"color":"#333","baseline":"middle","align":"center"},
   "encoding":{
    "x":{"field":"u","type":"quantitative","scale":{"domain":[-0.1667,5.896],"range":[344,635],"nice":false,"zero":false},"axis":null},
    "y":{"field":"t","type":"quantitative","scale":{"domain":[1.7,3.4],"reverse":true,"nice":false,"zero":false},"axis":null},
    "text":{"field":"lab"}}},
  {"data":{"values":[{"lab":"B","u":-3.54,"t":3.643},{"lab":"C","u":1.917,"t":3.643},{"lab":"D","u":10.83,"t":3.643}]},
   "mark":{"type":"text","font":"Liberation Serif","fontWeight":"bold","fontSize":36,"color":"#222","baseline":"middle","align":"center"},
   "encoding":{
    "x":{"field":"u","type":"quantitative","scale":{"domain":[-0.1667,5.896],"range":[344,635],"nice":false,"zero":false},"axis":null},
    "y":{"field":"t","type":"quantitative","scale":{"domain":[1.7,3.4],"reverse":true,"nice":false,"zero":false},"axis":null},
    "text":{"field":"lab"}}},
  {"data":{"values":[{"t":2.0},{"t":2.5},{"t":3.0}]},"mark":{"type":"rule","stroke":"#b5b5b5","strokeWidth":1.2},
   "encoding":{
    "x":{"datum":0.4,"type":"quantitative","scale":{"domain":[0.4,0.8667],"range":[635,1083],"nice":false,"zero":false},"axis":null},
    "x2":{"datum":0.8667},
    "y":{"field":"t","type":"quantitative","scale":{"domain":[1.748,3.44],"range":[1,813],"nice":false,"zero":false},"axis":null}}},
  {"data":{"values":[{"f":1}]},"mark":{"type":"rule","stroke":"#333","strokeWidth":1.5},
   "encoding":{
    "x":{"datum":0.4,"type":"quantitative","scale":{"domain":[0.4,0.8667],"range":[635,1083],"nice":false,"zero":false},
      "axis":{"orient":"top","title":"ESP C2","titleFontSize":41,"titleColor":"#222","titlePadding":31,"ticks":false,"labels":false,"domain":true}},
    "y":{"datum":1.748,"type":"quantitative","scale":{"domain":[1.748,3.44],"range":[1,813],"nice":false,"zero":false},"axis":null},
    "y2":{"datum":3.44}}},
  {"data":{"name":"D"},
   "transform":[{"flatten":["t","a"]},{"window":[{"op":"row_number","as":"n"}],"groupby":["r"]},{"lookup":"n","from":{"data":{"name":"doff"},"key":"n","fields":["k"]}},{"calculate":"datum.k+datum.a*0.05","as":"xx"},{"filter":"datum.a>=0"}],
   "mark":{"type":"area","orient":"horizontal","interpolate":"monotone","fill":"#111"},
   "encoding":{
    "x":{"field":"xx","type":"quantitative","scale":{"domain":[0.4,0.8667],"range":[635,1083],"nice":false,"zero":false},"axis":null},
    "x2":{"field":"k"},
    "y":{"field":"t","type":"quantitative","scale":{"domain":[1.748,3.44],"range":[1,813],"nice":false,"zero":false},"axis":null},
    "detail":{"field":"n","type":"nominal"}}},
  {"data":{"name":"D"},
   "transform":[{"flatten":["t","a"]},{"window":[{"op":"row_number","as":"n"}],"groupby":["r"]},{"lookup":"n","from":{"data":{"name":"doff"},"key":"n","fields":["k"]}},{"calculate":"datum.k+datum.a*0.05","as":"xx"}],
   "mark":{"type":"line","interpolate":"catmull-rom","stroke":"#6a6a6a","strokeWidth":1.3},
   "encoding":{
    "x":{"field":"xx","type":"quantitative","scale":{"domain":[0.4,0.8667],"range":[635,1083],"nice":false,"zero":false},
      "axis":{"orient":"bottom","title":"OFFSET (km)","titleFontSize":26,"titlePadding":8,"values":[0.45,0.5,0.55,0.6,0.65,0.7,0.75,0.8,0.85],"labelExpr":"abs(datum.value*10-round(datum.value*10))<0.001 ? format(datum.value,'.1f') : ''","tickSize":{"condition":{"test":"abs(datum.value*10-round(datum.value*10))<0.001","value":27},"value":15},"labelPadding":6}},
    "y":{"field":"t","type":"quantitative","scale":{"domain":[1.748,3.44],"range":[1,813],"nice":false,"zero":false},
      "axis":{"orient":"right","title":"T - X/3 (s)","titleFontSize":27,"titleAngle":270,"titleBaseline":"top","titlePadding":10,"titleY":368,"values":[1.8,1.9,2,2.1,2.2,2.3,2.4,2.5,2.6,2.7,2.8,2.9,3,3.1,3.2,3.3,3.4],"labelExpr":"abs(datum.value*2-round(datum.value*2))<0.001 ? format(datum.value,'.1f') : ''","tickSize":{"condition":{"test":"abs(datum.value*2-round(datum.value*2))<0.001","value":24},"value":13},"labelPadding":7}},
    "detail":{"field":"n","type":"nominal"},
    "order":{"field":"t","type":"quantitative"}}}
 ]
}
]
}
